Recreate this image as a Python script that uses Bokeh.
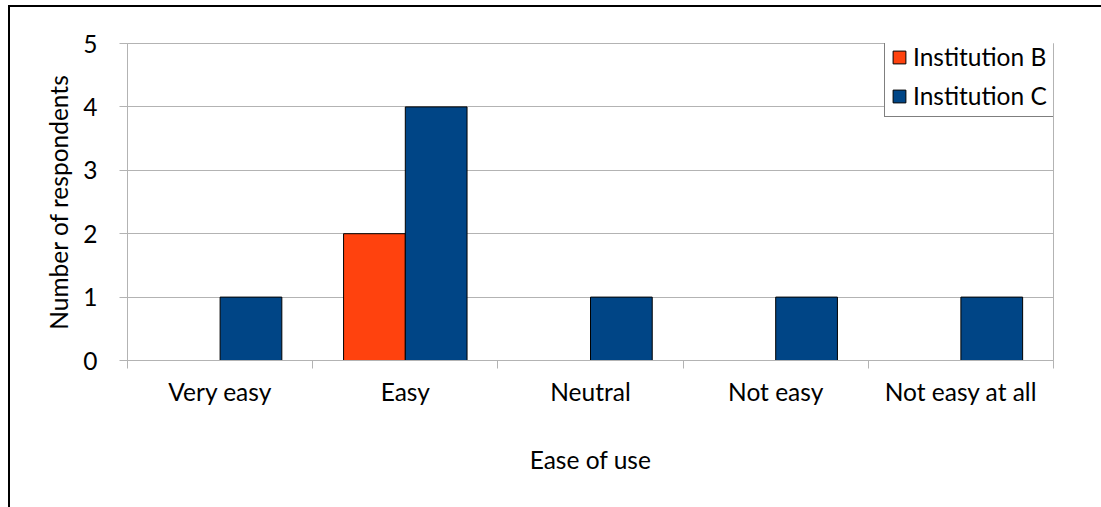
import numpy as np
from bokeh.plotting import figure
from bokeh.models import (ColumnDataSource, Range1d, FixedTicker, Legend, LegendItem,
                          InlineStyleSheet)
from bokeh.embed import file_html
from bokeh.resources import INLINE

# Survey responses: ease of use per institution
categories = ["Very easy", "Easy", "Neutral", "Not easy", "Not easy at all"]
institution_b = [0, 2, 0, 0, 0]
institution_c = [1, 4, 1, 1, 1]
series_names = ["Institution B", "Institution C"]
y_ticks = [0, 1, 2, 3, 4, 5]

FONT = "Lato"
FONT_SIZE = "24.5px"
GRID = "#b3b3b3"
COLORS = ["#ff420e", "#004586"]

n = len(categories)
centers = np.arange(n) + 0.5
bar_w = 1.0 / 3.0

p = figure(width=1101, height=507, output_backend="svg", toolbar_location=None,
           x_range=Range1d(0, n), y_range=Range1d(0, 5),
           min_border_left=127, min_border_right=48,
           min_border_top=43, min_border_bottom=147)
p.background_fill_color = "white"
p.border_fill_color = "white"
p.outline_line_color = GRID

# page frame: black rules along the top and left edges
p.stylesheets = [InlineStyleSheet(css="""
:host { position: relative; }
:host::before {
  content: "";
  position: absolute;
  left: 8px; top: 5px; width: 2px; height: 600px;
  background: #000;
  pointer-events: none;
  z-index: 10;
}
:host::after {
  content: "";
  position: absolute;
  left: 8px; top: 5px; width: 1200px; height: 2px;
  background: #000;
  pointer-events: none;
  z-index: 10;
}
""")]

renderers = []
for k, (vals, color) in enumerate(zip([institution_b, institution_c], COLORS)):
    offset = (k - 0.5) * bar_w
    xs = [c + offset for c, v in zip(centers, vals) if v > 0]
    ys = [v for v in vals if v > 0]
    src = ColumnDataSource(dict(x=xs, top=ys))
    r = p.vbar(x="x", top="top", bottom=0, width=bar_w, source=src,
               fill_color=color, line_color="black", line_width=1)
    renderers.append(r)

# x axis: category names at centres, short ticks at category boundaries
xax = p.xaxis[0]
xax.ticker = FixedTicker(ticks=list(centers), minor_ticks=list(range(n + 1)))
xax.major_label_overrides = {float(c): name for c, name in zip(centers, categories)}
xax.major_tick_line_color = None
xax.major_tick_out = 0
xax.major_tick_in = 0
xax.minor_tick_line_color = GRID
xax.minor_tick_out = 8
xax.minor_tick_in = 0
xax.axis_line_color = GRID
xax.major_label_standoff = 8
xax.axis_label = "Ease of use"
xax.axis_label_standoff = 36

yax = p.yaxis[0]
yax.ticker = FixedTicker(ticks=y_ticks, minor_ticks=[])
yax.major_tick_line_color = GRID
yax.major_tick_out = 8
yax.major_tick_in = 0
yax.axis_line_color = GRID
yax.major_label_standoff = 22
yax.axis_label = "Number of respondents"
yax.axis_label_standoff = 7

for ax in (xax, yax):
    ax.major_label_text_font = FONT
    ax.major_label_text_font_size = FONT_SIZE
    ax.major_label_text_color = "black"
    ax.axis_label_text_font = FONT
    ax.axis_label_text_font_size = FONT_SIZE
    ax.axis_label_text_font_style = "normal"
    ax.axis_label_text_color = "black"

p.xgrid.visible = False
p.ygrid.ticker = FixedTicker(ticks=y_ticks)
p.ygrid.grid_line_color = GRID

legend = Legend(items=[LegendItem(label=name, renderers=[r])
                       for name, r in zip(series_names, renderers)],
                location=(757, 243), orientation="vertical")
legend.label_text_font = FONT
legend.label_text_font_size = FONT_SIZE
legend.label_text_color = "black"
legend.glyph_width = 16
legend.glyph_height = 16
legend.label_height = 29
legend.label_standoff = 6
legend.spacing = 10
legend.padding = 6
legend.margin = 0
legend.border_line_color = "black"
legend.border_line_width = 1.5
legend.background_fill_alpha = 1.0
p.add_layout(legend, "center")

open("out.html", "w").write(file_html(p, INLINE))
